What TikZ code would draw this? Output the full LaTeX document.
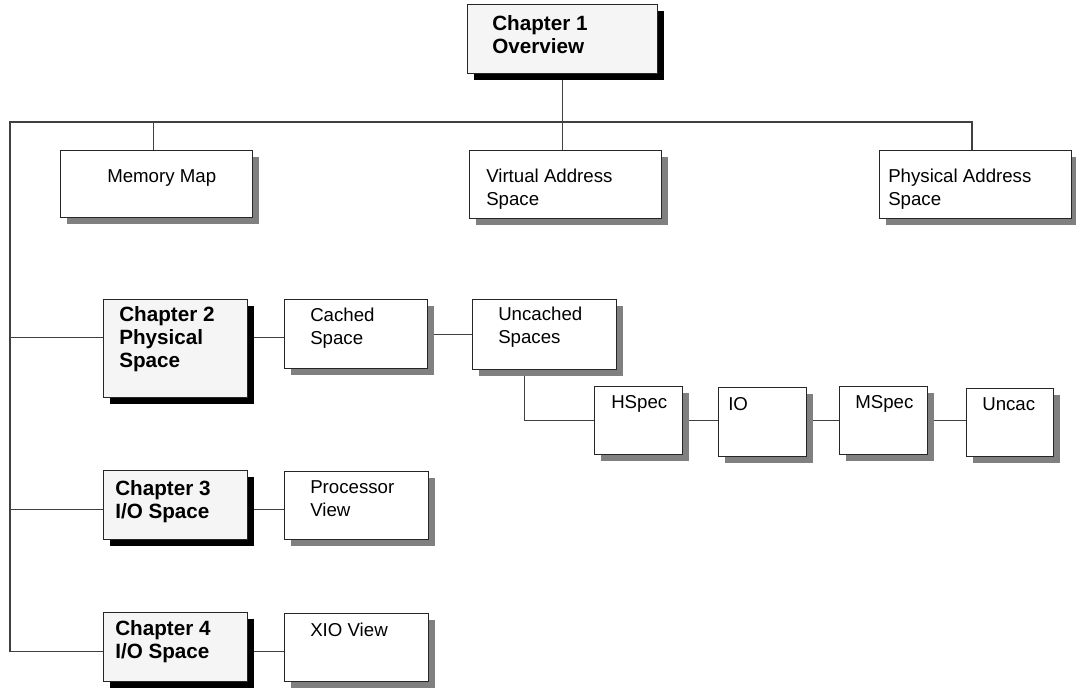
\documentclass[tikz,border=0pt]{standalone}
\usepackage{fontspec}
\setmainfont{Liberation Sans}
\usetikzlibrary{shadows,backgrounds,positioning}

\begin{document}
\begin{tikzpicture}[x=0.75pt,y=-0.75pt,
  frame/.style 2 args={draw=black!85, line width=0.8pt, anchor=north west, inner sep=0pt,
    minimum width=#1*0.75pt, minimum height=#2*0.75pt},
  plain/.style={fill=white, drop shadow={shadow xshift=4.5pt, shadow yshift=-4.5pt, fill=black!50, opacity=1}},
  chap/.style={fill=black!4, drop shadow={shadow xshift=4.5pt, shadow yshift=-4.5pt, fill=black, opacity=1}},
  lbl/.style 2 args={anchor=north west, inner sep=0pt, xshift=#1*0.75pt, yshift=-#2*0.75pt,
    align=left, font=\fontsize{14}{17.25}\selectfont},
  blbl/.style 2 args={lbl={#1}{#2}, font=\fontsize{15.5}{17.5}\selectfont\bfseries},
  wire/.style={draw=black!75, line width=0.8pt}]
\useasboundingbox (0,0) rectangle (1076,690);

% top level
\node[frame={190}{69}, chap, label={[blbl={25}{11}]north west:Chapter 1\\Overview}] (ch1) at (467,4) {};
\node[frame={192}{67}, plain, label={[lbl={47}{19}]north west:Memory Map}] (mem) at (60,150) {};
\node[frame={192}{68}, plain, label={[lbl={17}{19}]north west:Virtual Address\\Space}] (virt) at (469,150) {};
\node[frame={192}{68}, plain, label={[lbl={9}{19}]north west:Physical Address\\Space}] (phys) at (879,150) {};

% chapter 2
\node[frame={144}{98}, chap, label={[blbl={16}{7}]north west:Chapter 2\\Physical\\Space}] (ch2) at (103,299) {};
\node[frame={143}{69}, plain, label={[lbl={26}{9}]north west:Cached\\Space}] (cached) at (284,299) {};
\node[frame={144}{70}, plain, label={[lbl={26}{8}]north west:Uncached\\Spaces}] (unc) at (472,299) {};
\node[frame={88}{68}, plain, label={[lbl={17}{9}]north west:HSpec}] (hspec) at (594,386) {};
\node[frame={88}{69}, plain, label={[lbl={10}{10}]north west:IO}] (io) at (718,387) {};
\node[frame={88}{68}, plain, label={[lbl={16}{9}]north west:MSpec}] (mspec) at (839,386) {};
\node[frame={87}{68}, plain, label={[lbl={16}{9}]north west:Uncac}] (uncac) at (966,388) {};

% chapters 3 and 4
\node[frame={144}{69}, chap, label={[blbl={12}{10}]north west:Chapter 3\\I/O Space}] (ch3) at (103,470) {};
\node[frame={144}{68}, plain, label={[lbl={26}{9}]north west:Processor\\View}] (proc) at (284,471) {};
\node[frame={144}{69}, chap, label={[blbl={12}{8}]north west:Chapter 4\\I/O Space}] (ch4) at (103,612) {};
\node[frame={144}{68}, plain, label={[lbl={26}{10}]north west:XIO View}] (xio) at (284,613) {};

\coordinate (busL) at (10,122);
\coordinate (busR) at (972,122);
\coordinate (r2) at ([yshift=-2.5pt]cached.west);
\coordinate (r3) at ([yshift=-3pt]proc.west);
\coordinate (r4) at ([yshift=-3pt]xio.west);

\begin{scope}[on background layer]
\draw[wire] (ch1.south) -- (ch1.south |- busL);
\draw[wire] (busL |- r4) -- (busL) -- (busR) -- (busR |- phys.north);
\draw[wire] ([xshift=-2pt]mem.north |- busL) -- ([xshift=-2pt]mem.north);
\draw[wire] (ch1.south |- busL) -- (ch1.south |- virt.north);
% chapter rows
\draw[wire] (busL |- r2) -- (ch2.west |- r2);
\draw[wire] (ch2.east |- r2) -- (r2);
\draw[wire] (cached.east) -- (unc.west |- cached.east);
\draw[wire] ([xshift=-15pt]unc.south) |- (hspec.west);
\draw[wire] (hspec.east) -- (io.west |- hspec.east);
\draw[wire] (io.east |- hspec.east) -- (mspec.west |- hspec.east);
\draw[wire] (mspec.east |- hspec.east) -- (uncac.west |- hspec.east);
\draw[wire] (busL |- r3) -- (ch3.west |- r3);
\draw[wire] (ch3.east |- r3) -- (r3);
\draw[wire] (busL |- r4) -- (ch4.west |- r4);
\draw[wire] (ch4.east |- r4) -- (r4);
\end{scope}
\end{tikzpicture}
\end{document}
